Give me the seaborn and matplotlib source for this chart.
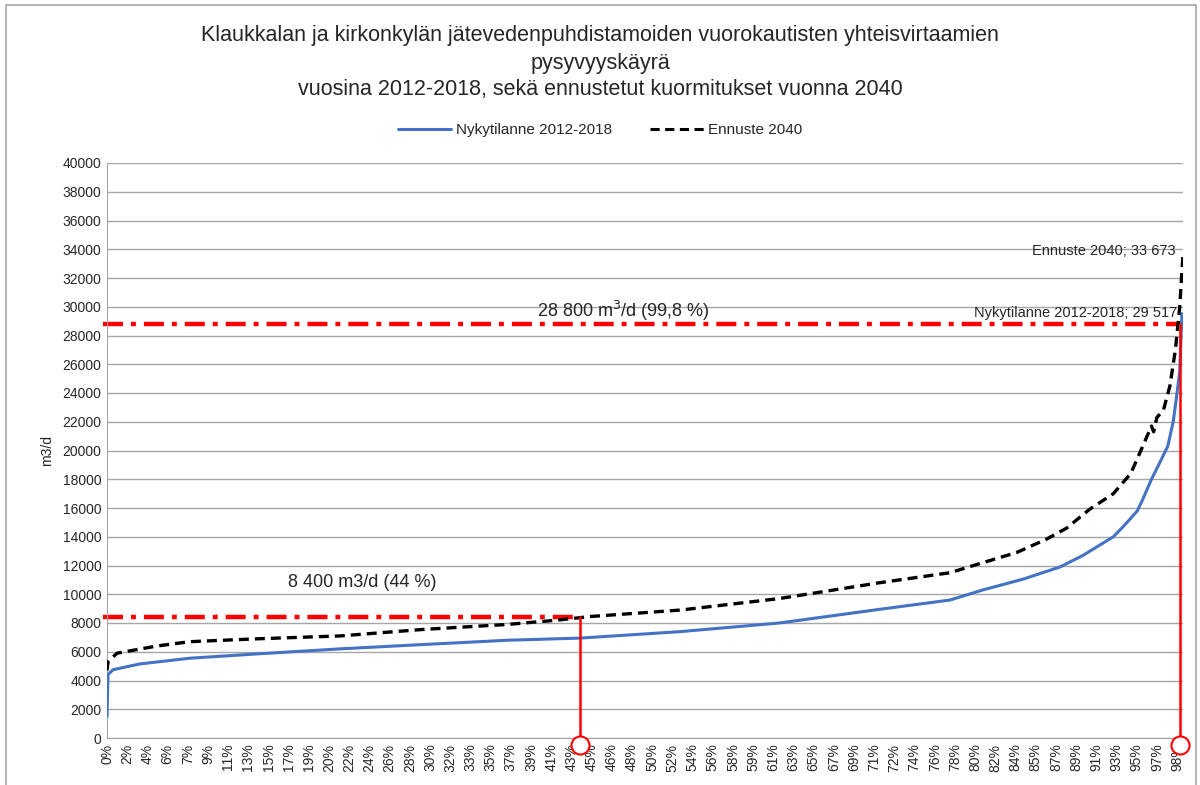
import numpy as np
import pandas as pd
import matplotlib
matplotlib.use("Agg")
import matplotlib.pyplot as plt
import seaborn as sns
from matplotlib.lines import Line2D
from matplotlib.patches import Rectangle

# duration curve, share of days (%) vs daily flow (m3/d)
nyky_pct = [0.0, 0.09, 0.55, 3.0, 7.6, 13.8, 21.4, 29.0, 36.8, 43.5, 52.7, 61.8, 71.0,
            77.5, 80.5, 84.2, 87.6, 89.7, 92.5, 93.4, 94.7, 95.2, 96.0, 96.6, 97.5,
            98.0, 98.3, 98.6, 98.8]
nyky_flow = [1500, 4400, 4750, 5150, 5550, 5850, 6200, 6500, 6800, 6950, 7400, 8000, 8950,
             9600, 10300, 11050, 11900, 12700, 14000, 14700, 15800, 16600, 18000, 18900, 20300,
             22000, 23700, 25500, 29517]

ennuste_pct = [0.0, 0.09, 0.92, 4.6, 7.6, 13.8, 21.4, 29.0, 36.8, 41.4, 44.4, 52.7, 61.8,
               71.0, 77.5, 80.5, 83.6, 86.4, 88.2, 90.3, 92.5, 94.1, 95.2, 96.0, 96.2,
               96.5, 97.1, 97.7, 98.2, 98.6, 98.9]
ennuste_flow = [4700, 5300, 5900, 6400, 6700, 6900, 7100, 7550, 7900, 8200, 8450, 8900, 9700,
                10800, 11500, 12200, 12900, 13850, 14600, 15900, 17000, 18400, 20300, 21700, 21300,
                22300, 22800, 24500, 27000, 30000, 33673]

# category labels as Excel printed them
x_labels = ["0%", "2%", "4%", "6%", "7%", "9%", "11%", "13%", "15%", "17%", "19%", "20%",
            "22%", "24%", "26%", "28%", "30%", "32%", "33%", "35%", "37%", "39%", "41%",
            "43%", "45%", "46%", "48%", "50%", "52%", "54%", "56%", "58%", "59%", "61%",
            "63%", "65%", "67%", "69%", "71%", "72%", "74%", "76%", "78%", "80%", "82%",
            "84%", "85%", "87%", "89%", "91%", "93%", "95%", "97%", "98%"]
label_step = 1.856

# design flow markers (value, position on the curve)
mitoitus_flow = [8400, 28800]
mitoitus_pct = [43.5, 98.6]

df_nyky = pd.DataFrame({"pct": nyky_pct, "flow": nyky_flow})
df_enn = pd.DataFrame({"pct": ennuste_pct, "flow": ennuste_flow})

sns.set_style("white")
plt.rcParams["font.family"] = ["Liberation Sans", "DejaVu Sans"]
narrow = ["Liberation Sans Narrow", "Liberation Sans", "DejaVu Sans"]

fig = plt.figure(figsize=(12, 7.85), dpi=100)
ax = fig.add_axes([107/1200, 1-738/785, (1183-107)/1200, (738-163)/785])

# horizontal design lines + vertical drop lines
for val, pos in zip(mitoitus_flow, mitoitus_pct):
    ax.plot([-0.4, pos], [val, val], color="#ff0000", lw=3.2,
            dashes=(4.5, 1.8, 1.1, 1.8), clip_on=False, zorder=2)
    ax.plot([pos, pos], [val, -500], color="#ff0000", lw=1.8, clip_on=False, zorder=4)
    ax.plot([pos], [-500], marker="o", ms=13, mfc="white", mec="#ff0000", mew=1.5,
            clip_on=False, zorder=5)

sns.lineplot(data=df_nyky, x="pct", y="flow", ax=ax, color="#4472c4", lw=2.2, zorder=3)
sns.lineplot(data=df_enn, x="pct", y="flow", ax=ax, color="black", lw=2.4,
             dashes=False, zorder=3).lines[-1].set_dashes((3, 1.8))

ax.set_xlim(0, 98.9)
ax.set_ylim(0, 40000)
ax.set_yticks(np.arange(0, 40001, 2000))
ax.set_yticklabels([str(v) for v in range(0, 40001, 2000)], fontsize=10)
ax.set_xticks([i * label_step for i in range(len(x_labels))])
ax.set_xticklabels(x_labels, rotation=90, fontsize=10)
ax.tick_params(axis="both", length=0, pad=4)
ax.yaxis.grid(True, color="#a6a6a6", lw=1)
ax.xaxis.grid(False)
for s in ["top", "right"]:
    ax.spines[s].set_visible(False)
for s in ["left", "bottom"]:
    ax.spines[s].set_color("#a6a6a6")
ax.set_xlabel("")
ax.set_ylabel("m3/d", fontsize=10, labelpad=6)

# annotations
ax.text(47.5, 28900, "28 800 m$^3$/d (99,8 %)", ha="center", va="bottom",
        fontsize=13, family=narrow)
ax.text(23.5, 10200, "8 400 m3/d (44 %)", ha="center", va="bottom",
        fontsize=13, family=narrow)
ax.text(98.2, 33400, "Ennuste 2040; 33 673", ha="right", va="bottom",
        fontsize=10.5, family=narrow)
ax.text(98.4, 29100, "Nykytilanne 2012-2018; 29 517", ha="right", va="bottom",
        fontsize=10.5, family=narrow)

handles = [Line2D([], [], color="#4472c4", lw=2.2),
           Line2D([], [], color="black", lw=2.2, dashes=(3, 1.8))]
fig.legend(handles, ["Nykytilanne 2012-2018", "Ennuste 2040"], loc="center",
           bbox_to_anchor=(0.5, 1-130/785), ncol=2, frameon=False,
           prop={"family": narrow, "size": 11}, handlelength=3.5, columnspacing=2.5,
           handletextpad=0.3)

fig.text(0.5, 1-36/785, "Klaukkalan ja kirkonkylän jätevedenpuhdistamoiden vuorokautisten yhteisvirtaamien",
         ha="center", va="center", fontsize=15.5, family=narrow)
fig.text(0.5, 1-63/785, "pysyvyyskäyrä", ha="center", va="center", fontsize=15.5, family=narrow)
fig.text(0.5, 1-90/785, "vuosina 2012-2018, sekä ennustetut kuormitukset vuonna 2040",
         ha="center", va="center", fontsize=15.5, family=narrow)

fig.patches.append(Rectangle((6/1200, -0.01), 1190/1200, (785-5)/785 + 0.01,
                             transform=fig.transFigure, fill=False,
                             edgecolor="#a6a6a6", lw=1.2))

fig.savefig("out.png", dpi=100)
